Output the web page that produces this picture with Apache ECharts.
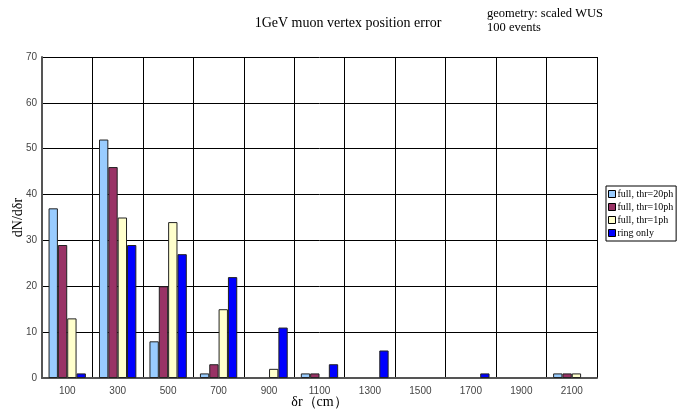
<!DOCTYPE html>
<html><head><meta charset="utf-8">
<script src="https://cdn.jsdelivr.net/npm/echarts@6/dist/echarts.min.js"></script>
<style>html,body{margin:0;padding:0;background:#fff}#c{width:691px;height:412px}</style>
</head><body><div id="c"></div>
<script>
const categories = ['100','300','500','700','900','1100','1300','1500','1700','1900','2100'];
const thr20 = [37, 52, 8, 1, 0, 1, 0, 0, 0, 0, 1];
const thr10 = [29, 46, 20, 3, 0, 1, 0, 0, 0, 0, 1];
const thr1  = [13, 35, 34, 15, 2, 0, 0, 0, 0, 0, 1];
const ring  = [1, 29, 27, 22, 11, 3, 6, 0, 1, 0, 0];
const names = ['full, thr=20ph','full, thr=10ph','full, thr=1ph','ring only'];
const colors = ['#99ccff','#993366','#ffffcc','#0000ff'];
const serif = '"Liberation Serif","DejaVu Serif",serif';
const chart = echarts.init(document.getElementById('c'));
const mk = (i, d) => ({
  name: names[i], type: 'bar', data: d.map(v => v === 0 ? '-' : v), barGap: '0%', barCategoryGap: '26%',
  itemStyle: {color: colors[i], borderColor: '#222', borderWidth: 1}
});
chart.setOption({
  animation: false,
  title: [
    {text: '1GeV muon vertex position error', left: 343, top: 11, textAlign: 'center',
     textStyle: {fontFamily: serif, fontSize: 14, fontWeight: 'normal', color: '#000'}},
    {text: 'geometry: scaled WUS\n100 events', left: 482, top: 2,
     textStyle: {fontFamily: serif, fontSize: 12.5, fontWeight: 'normal', color: '#000', lineHeight: 14}}
  ],
  legend: {
    orient: 'vertical', left: 606, top: 186, itemWidth: 7, itemHeight: 7, itemGap: 3,
    borderColor: '#000', borderWidth: 1, padding: [3, 3, 3, 2], icon: 'rect',
    textStyle: {fontFamily: serif, fontSize: 10, color: '#000', padding: [0,0,0,-3]},
    itemStyle: {borderColor: '#000', borderWidth: 1},
    data: names
  },
  grid: {left: 42, right: 94, top: 57, bottom: 34, containLabel: false, outerBoundsMode: 'none'},
  xAxis: {
    type: 'category', data: categories,
    name: 'δr（cm）', nameLocation: 'middle', nameGap: 17, nameMoveOverlap: false,
    nameTextStyle: {fontFamily: serif, fontSize: 14, color: '#000'},
    axisLine: {lineStyle: {color: '#555', width: 2}},
    axisTick: {show: false},
    axisLabel: {fontFamily: '"Liberation Sans",sans-serif', fontSize: 10, color: '#444', margin: 8},
    splitLine: {show: true, lineStyle: {color: '#000', width: 1}}
  },
  yAxis: {
    type: 'value', min: 0, max: 70, interval: 10,
    name: 'dN/dδr', nameLocation: 'middle', nameGap: 17, nameRotate: 90, nameMoveOverlap: false,
    nameTextStyle: {fontFamily: serif, fontSize: 14, color: '#000'},
    axisLine: {show: true, lineStyle: {color: '#555', width: 2}},
    axisTick: {show: false},
    axisLabel: {fontFamily: '"Liberation Sans",sans-serif', fontSize: 10, color: '#444', margin: 5},
    splitLine: {show: true, lineStyle: {color: '#000', width: 1}}
  },
  series: [mk(0, thr20), mk(1, thr10), mk(2, thr1), mk(3, ring)]
});
</script></body></html>
